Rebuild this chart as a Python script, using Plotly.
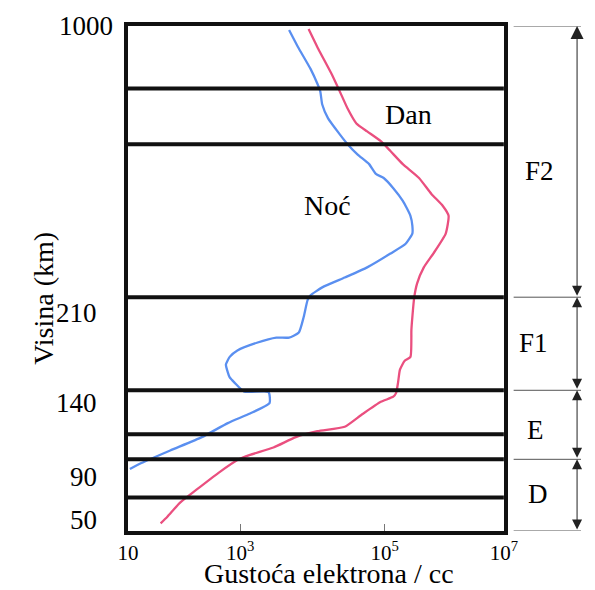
import numpy as np
import plotly.graph_objects as go

# ---------------- data ----------------
# Night (Noć) profile: log10 electron density [cm^-3] vs altitude [km]
night_log_ne = [3.676, 3.797, 3.973, 4.068, 4.108, 4.135, 4.216, 4.378, 4.486, 4.622,
                4.784, 4.878, 4.986, 5.144, 5.304, 5.432, 5.464, 5.464, 5.352, 5.096,
                4.757, 4.446, 4.135, 3.973, 3.932, 3.878, 3.811, 3.676, 3.500, 3.230,
                2.949, 2.812, 2.744, 2.778, 2.812, 2.897, 3.054, 3.392, 3.405, 3.135,
                2.778, 2.316, 1.752, 1.239, 1.034]
night_alt_km = [989, 943, 882, 841, 820, 784, 746, 702, 675, 647,
                620, 593, 582, 554, 519, 478, 451, 429, 401, 374,
                336, 308, 281, 259, 246, 207, 195, 191, 191, 187,
                181, 176, 170, 164, 160, 156, 149, 148.6, 140, 133,
                126.5, 117, 108, 99.5, 95.4]

# Day (Dan) profile
day_log_ne = [3.946, 4.081, 4.270, 4.378, 4.486, 4.608, 4.757, 4.946, 5.096, 5.304,
              5.576, 5.784, 5.976, 6.072, 6.024, 5.816, 5.656, 5.544, 5.496, 5.464,
              5.448, 5.432, 5.336, 5.256, 5.224, 5.192, 5.144, 4.946, 4.676, 4.446,
              4.068, 3.770, 3.459, 3.135, 2.949, 2.607, 2.214, 1.923, 1.701, 1.581]
day_alt_km = [992, 937, 866, 820, 773, 732, 710, 683, 656, 620,
              582, 538, 505, 478, 429, 374, 336, 292, 254, 207,
              197, 176, 173, 166, 156, 148, 145, 141, 132, 124,
              121, 117, 110, 105, 101.5, 92.7, 78, 66, 53, 47]

# horizontal reference lines (altitudes, km)
grid_alt_km = [828, 675, 254, 150, 119, 102, 71]

# ionospheric layers: name, top, bottom (km), label altitude
layer_names = ["F2", "F1", "E", "D"]
layer_top_km = [1000, 254, 150, 102]
layer_bottom_km = [254, 150, 102, 40]
layer_label_km = [601, 187, 122, 74]

# axis tick labels
x_tick_logs = [1, 3, 5, 7]
x_tick_text = ["10", "10<sup>3</sup>", "10<sup>5</sup>", "10<sup>7</sup>"]
y_tick_km = [1000, 210, 140, 90, 50]
y_tick_text = ["1000", "210", "140", "90", "50"]

# ---------------- axis scales (non-uniform, as in the original) ----------------
X_KNOTS_LOG = [1, 3, 5, 7]
X_KNOTS_POS = [0.0, 0.2987, 0.683, 1.0]
Y_KNOTS_KM = [40, 50, 90, 140, 210, 1000]
Y_KNOTS_POS = [0.0, 0.02176, 0.1068, 0.2532, 0.4313, 1.0]


def xpos(v):
    return np.interp(np.asarray(v, float), X_KNOTS_LOG, X_KNOTS_POS)


def ypos(v):
    return np.interp(np.asarray(v, float), Y_KNOTS_KM, Y_KNOTS_POS)


FONT = "Liberation Serif"
BLUE = "#5a8ff0"
RED = "#ea4f7f"
MAIN_END = 0.8297

fig = go.Figure()
fig.add_trace(go.Scatter(x=xpos(night_log_ne), y=ypos(night_alt_km), mode="lines",
                         line=dict(color=BLUE, width=2.3, shape="spline", smoothing=0.5),
                         showlegend=False, hoverinfo="skip"))
fig.add_trace(go.Scatter(x=xpos(day_log_ne), y=ypos(day_alt_km), mode="lines",
                         line=dict(color=RED, width=2.3, shape="spline", smoothing=0.5),
                         showlegend=False, hoverinfo="skip"))

# interior horizontal lines
for a in grid_alt_km:
    yy = float(ypos(a))
    fig.add_shape(type="line", xref="x domain", yref="y", x0=0, x1=1, y0=yy, y1=yy,
                  line=dict(color="#111111", width=4), layer="above")

# right-side layer brackets (second x axis panel)
bounds = sorted(set(layer_top_km + layer_bottom_km), reverse=True)
for b in bounds:
    yy = float(ypos(b))
    fig.add_shape(type="line", xref="x2", yref="y", x0=0.127, x1=1.0, y0=yy, y1=yy,
                  line=dict(color="#555555", width=1))
AX_X = 0.949
label_x = [0.456, 0.38, 0.405, 0.443]
for name, top, bot, lab, lx in zip(layer_names, layer_top_km, layer_bottom_km,
                                   layer_label_km, label_x):
    yt, yb = float(ypos(top)), float(ypos(bot))
    fig.add_annotation(xref="x2", yref="y", axref="x2", ayref="y",
                       x=AX_X, y=yt, ax=AX_X, ay=yb, text="", showarrow=True,
                       arrowside="end+start", arrowhead=2, startarrowhead=2,
                       arrowsize=2.0 if name != "F2" else 2.6,
                       startarrowsize=2.0, arrowwidth=1, arrowcolor="#222222")
    fig.add_annotation(xref="x2", yref="y", x=lx, y=float(ypos(lab)), text=name,
                       showarrow=False, font=dict(family=FONT, size=27, color="black"))

# curve labels
fig.add_annotation(xref="x", yref="y", x=0.745, y=float(ypos(757)), text="Dan",
                   showarrow=False, font=dict(family=FONT, size=28, color="black"))
fig.add_annotation(xref="x", yref="y", x=0.532, y=float(ypos(505)), text="Noć",
                   showarrow=False, font=dict(family=FONT, size=28, color="black"))

# y tick labels (placed as in the original)
for km, t in zip(y_tick_km, y_tick_text):
    fig.add_annotation(xref="paper", yref="y", x=0, y=float(ypos(km)), text=t,
                       xanchor="right", xshift=-13 if km == 1000 else -29,
                       showarrow=False, font=dict(family=FONT, size=27, color="black"))

# axis titles
fig.add_annotation(xref="paper", yref="paper", x=0.444, y=-0.085, text="Gustoća elektrona / cc",
                   showarrow=False, yanchor="middle",
                   font=dict(family=FONT, size=28, color="black"))
fig.add_annotation(xref="paper", yref="paper", x=-0.224, y=0.46, text="Visina (km)",
                   textangle=-90, showarrow=False,
                   font=dict(family=FONT, size=28, color="black"))

fig.update_layout(
    width=595, height=590, autosize=False,
    margin=dict(l=128, r=0, t=26, b=59),
    paper_bgcolor="white", plot_bgcolor="white",
    font=dict(family=FONT),
    xaxis=dict(domain=[0, MAIN_END], range=[0, 1], showgrid=False, zeroline=False,
               showline=True, linewidth=4, linecolor="#111111", mirror=True,
               tickmode="array", tickvals=list(xpos(x_tick_logs)), ticktext=x_tick_text,
               ticks="inside", ticklen=7, tickwidth=1, tickcolor="#777777",
               tickfont=dict(family=FONT, size=21, color="black")),
    xaxis2=dict(domain=[MAIN_END, 1.0], range=[0, 1], anchor="y", visible=False),
    yaxis=dict(range=[0, 1], showgrid=False, zeroline=False, showline=True,
               linewidth=4, linecolor="#111111", mirror=True, showticklabels=False,
               ticks=""),
)

fig.write_html("out.html",
               config={"responsive": False, "displayModeBar": False},
               post_script="document.body.style.margin='0';document.body.style.overflow='hidden';")
